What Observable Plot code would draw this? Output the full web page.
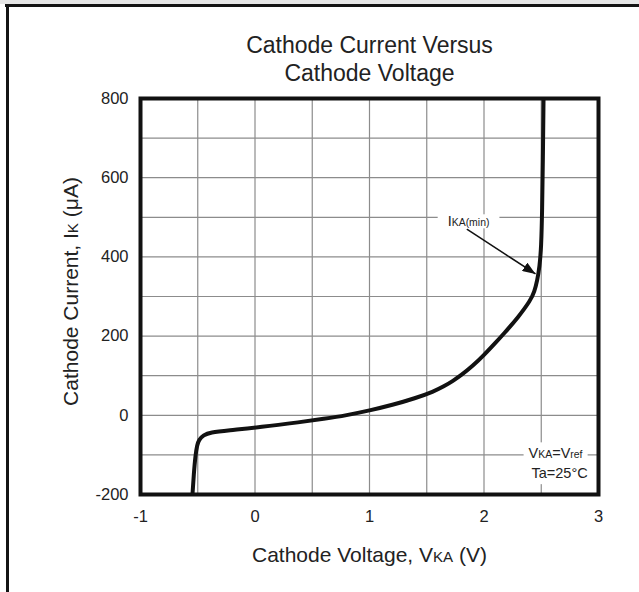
<!DOCTYPE html>
<html><head><meta charset="utf-8">
<script src="https://cdn.jsdelivr.net/npm/d3@7"></script>
<script src="https://cdn.jsdelivr.net/npm/@observablehq/plot@0.6"></script>
<style>
html,body{margin:0;padding:0;background:#fff;}
#wrap{position:relative;width:639px;height:592px;overflow:hidden;background:#fff;}
#chart svg{position:absolute;left:0;top:0;}
.edge{position:absolute;background:#141414;}
</style></head><body>
<div id="wrap">
  <div id="chart"></div>
  <div class="edge" style="left:0;top:0;width:639px;height:4px;background:#e6e6e6"></div>
  <div class="edge" style="left:5px;top:4px;width:634px;height:3px"></div>
  <div class="edge" style="left:6px;top:4px;width:3px;height:588px"></div>
</div>
<script>
// ---- data ----
const titleLines = ["Cathode Current Versus", "Cathode Voltage"];
const xLabel = "Cathode Voltage, VKA (V)";
const yLabel = "Cathode Current, IK (μA)";
const xTicks = [-1, 0, 1, 2, 3];
const yTicks = [-200, 0, 200, 400, 600, 800];
const xGrid = [-0.5, 0, 0.5, 1, 1.5, 2, 2.5];
const yGrid = [-100, 0, 100, 200, 300, 400, 500, 600, 700];
const voltage = [-0.546, -0.535, -0.52, -0.505, -0.49, -0.45, -0.39, -0.24, 0.05, 0.4, 0.6, 0.8, 1.0, 1.2, 1.4, 1.56, 1.65, 1.73, 1.8, 1.9, 2.0, 2.1, 2.17, 2.3, 2.406, 2.44, 2.465, 2.485, 2.5, 2.508, 2.514, 2.52];
const current = [-200, -150, -100, -75, -62, -50, -43, -38, -30, -17, -9, 0, 12, 26, 43, 60, 73, 87, 101, 124, 152, 183, 205, 248, 290, 312, 340, 375, 424, 520, 640, 800];
const arrowV = [1.85, 2.45];
const arrowI = [470, 357];
const noteTexts = ["IKA(min)", "VKA=Vref", "Ta=25°C"];
const noteV = [1.865, 2.625, 2.66];
const noteI = [489, -97, -147];

// ---- tables ----
const curve = voltage.map((v, k) => ({v, i: current[k]}));
const notes = noteTexts.map((t, k) => ({t, v: noteV[k], i: noteI[k]}));
const arrows = [{x1: arrowV[0], y1: arrowI[0], x2: arrowV[1], y2: arrowI[1]}];

const FONT = "'Liberation Sans', Arial, Helvetica, sans-serif";
const INK = "#222";
const fmt = d => String(d);

const chart = Plot.plot({
  width: 639, height: 592,
  marginLeft: 140, marginRight: 41, marginTop: 98, marginBottom: 98,
  style: {fontFamily: FONT, color: INK, background: "transparent", overflow: "visible"},
  x: {domain: [-1, 3]},
  y: {domain: [-200, 800]},
  marks: [
    Plot.gridX(xGrid, {stroke: "#8c8c8c", strokeOpacity: 1, strokeWidth: 1.2}),
    Plot.gridY(yGrid, {stroke: "#8c8c8c", strokeOpacity: 1, strokeWidth: 1.2}),
    Plot.line(curve, {x: "v", y: "i", stroke: "#111", strokeWidth: 4, curve: "basis", clip: true}),
    Plot.link(arrows, {x1: "x1", y1: "y1", x2: "x2", y2: "y2", stroke: "#111", strokeWidth: 1.5}),
    Plot.text(notes, {x: "v", y: "i", text: "t", fontSize: 14.5, fill: INK}),
    Plot.frame({stroke: "#111", strokeWidth: 4}),
    Plot.axisX(xTicks, {tickSize: 0, tickPadding: 16, fontSize: 16.5, tickFormat: fmt, label: null, fill: INK}),
    Plot.axisY(yTicks, {tickSize: 0, tickPadding: 12, fontSize: 16.5, tickFormat: fmt, label: null, fill: INK}),
    Plot.text([titleLines[0]], {text: d => d, frameAnchor: "top", textAnchor: "middle", lineAnchor: "middle", dy: -53, fontSize: 23, fill: INK}),
    Plot.text([titleLines[1]], {text: d => d, frameAnchor: "top", textAnchor: "middle", lineAnchor: "middle", dy: -25, fontSize: 23, fill: INK}),
    Plot.text([xLabel], {text: d => d, frameAnchor: "bottom", textAnchor: "middle", lineAnchor: "middle", dy: 61, fontSize: 21, fill: INK}),
    Plot.text([yLabel], {text: d => d, frameAnchor: "left", textAnchor: "middle", lineAnchor: "middle", rotate: -90, dx: -69, dy: -5, fontSize: 21, fill: INK})
  ]
});
document.getElementById("chart").appendChild(chart);

// ---- styling: small-caps subscripts, label boxes, filled arrowhead ----
const splits = {
  "Cathode Voltage, VKA (V)": [["Cathode Voltage, V", 1], ["KA", 0.72], [" (V)", 1]],
  "Cathode Current, IK (μA)": [["Cathode Current, I", 1], ["K", 0.72], [" (μA)", 1]],
  "IKA(min)": [["I", 1], ["KA(min)", 0.72]],
  "VKA=Vref": [["V", 1], ["KA", 0.72], ["=V", 1], ["ref", 0.72]]
};
const boxes = {"IKA(min)": [10, -1], "VKA=Vref": [5, 3], "Ta=25°C": [5, 3]};
const svg = d3.select(chart);
svg.selectAll("text").each(function() {
  const key = this.textContent;
  if (splits[key]) {
    const t = d3.select(this);
    t.text(null);
    splits[key].forEach(([s, k]) => t.append("tspan").attr("font-size", k === 1 ? null : k + "em").text(s));
  }
  if (boxes[key]) {
    const b = this.getBBox();
    const [px, py] = boxes[key];
    d3.select(this.parentNode).insert("rect", () => this)
      .attr("transform", this.getAttribute("transform"))
      .attr("x", b.x - px).attr("y", b.y - py)
      .attr("width", b.width + 2 * px).attr("height", b.height + 2 * py)
      .attr("fill", "#fff");
  }
});
svg.append("defs").append("marker")
  .attr("id", "ahead").attr("viewBox", "0 0 13 10")
  .attr("refX", 13).attr("refY", 5)
  .attr("markerWidth", 13).attr("markerHeight", 10)
  .attr("markerUnits", "userSpaceOnUse").attr("orient", "auto")
  .append("path").attr("d", "M0,0L13,5L0,10Z").attr("fill", "#111");
svg.selectAll('g[aria-label="link"] path').attr("marker-end", "url(#ahead)");
</script>
</body></html>
